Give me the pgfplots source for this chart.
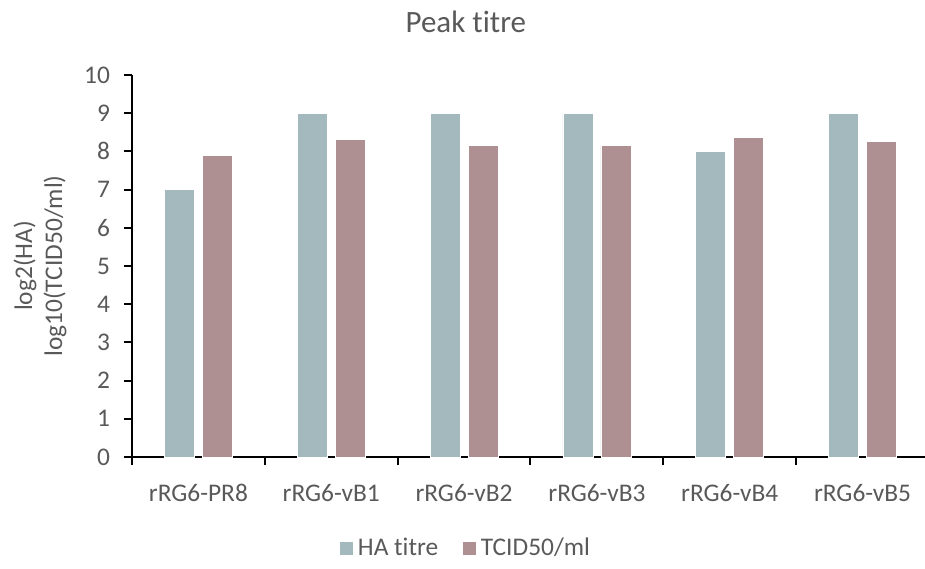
\documentclass[border=0pt]{standalone}
\usepackage{pgfplots}
\pgfplotsset{compat=1.18}
\usepackage{fontspec}
\setmainfont{Carlito}[RawFeature={-liga;-clig;-calt;-dlig}]
\definecolor{txt}{HTML}{595959}
\definecolor{haC}{HTML}{A3B9BD}
\definecolor{tcC}{HTML}{AE8F92}
\begin{document}
\begin{tikzpicture}
\useasboundingbox (0,0) rectangle (462.5pt,284pt);
\begin{axis}[
  at={(66pt,55.5pt)}, anchor=south west,
  scale only axis, width=396.5pt, height=191pt,
  xmin=-0.5, xmax=5.47, ymin=0, ymax=10,
  axis lines*=left,
  axis line style={black, line width=1pt},
  every outer x axis line/.append style={-},
  every outer y axis line/.append style={-},
  ytick={0,1,...,10},
  xtick={0,1,2,3,4,5},
  xticklabels={rRG6-PR8,rRG6-vB1,rRG6-vB2,rRG6-vB3,rRG6-vB4,rRG6-vB5},
  minor xtick={-0.5,0.5,1.5,2.5,3.5,4.5},
  tick align=outside,
  major x tick style={draw=none},
  minor tick length=4pt,
  major tick length=4pt,
  minor x tick style={black, line width=1pt},
  y tick style={black, line width=1pt},
  /pgf/number format/assume math mode=true,
  tick label style={font=\fontsize{12.7}{15}\selectfont, text=txt},
  xticklabel style={yshift=-6pt},
  yticklabel style={xshift=-3.5pt},
  ybar, bar width=15pt,
  title={Peak titre},
  title style={at={(axis description cs:0.421,1.11)}, anchor=base, yshift=-6pt, font=\fontsize{15.5}{18}\selectfont, text=txt},
  ylabel={log2(HA)\\log10(TCID50/ml)},
  ylabel style={align=center, at={(axis description cs:-0.116,0.5)}, anchor=center, font=\fontsize{12.7}{15}\selectfont, text=txt},
  legend columns=2,
  legend style={at={(axis description cs:0.422,-0.238)}, anchor=center, draw=none, fill=none,
    font=\fontsize{12.7}{15}\selectfont, text=txt,
    /tikz/every even column/.append style={column sep=10pt}},
  legend image code/.code={\fill[#1] (0pt,-3.5pt) rectangle (7pt,3.5pt);},
]
\addplot+[bar shift=-9.5pt, fill=haC, draw=white, line width=0.3pt] coordinates {(0,7) (1,9) (2,9) (3,9) (4,8) (5,9)};
\addplot+[bar shift=9.5pt, fill=tcC, draw=white, line width=0.3pt] coordinates {(0,7.89) (1,8.32) (2,8.16) (3,8.16) (4,8.36) (5,8.26)};
\legend{HA titre, TCID50/ml}
\end{axis}
\end{tikzpicture}
\end{document}
